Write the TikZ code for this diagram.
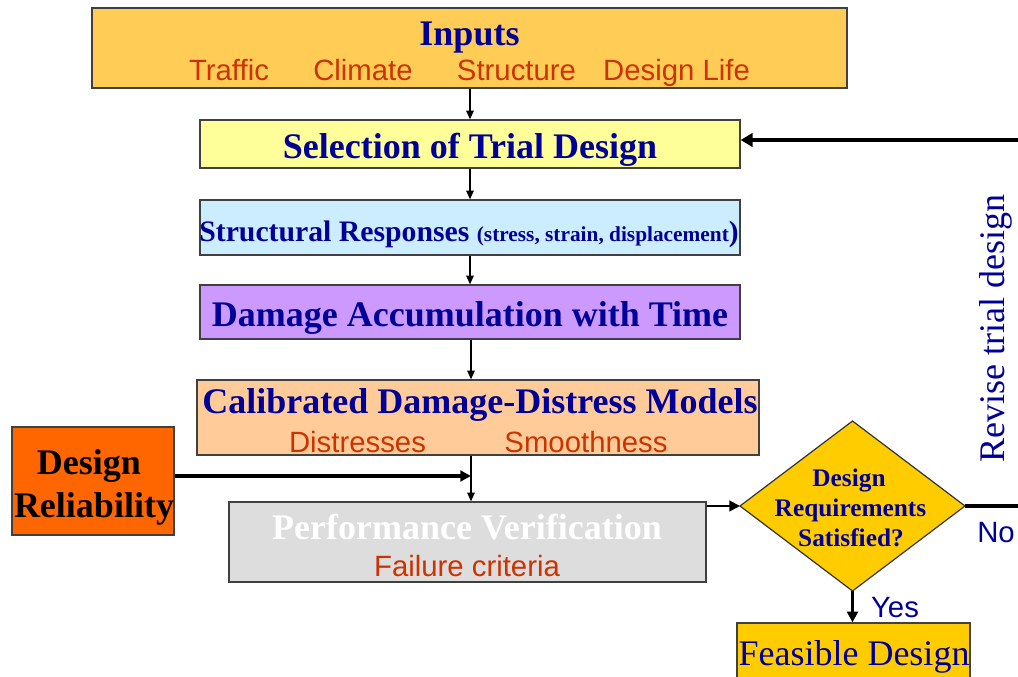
\documentclass[tikz,border=0pt]{standalone}
\usepackage{fontspec}
\setmainfont{Liberation Serif}
\setsansfont{Liberation Sans}
\usetikzlibrary{arrows.meta}
\definecolor{navy}{HTML}{000099}
\definecolor{redtxt}{HTML}{CC3300}
\definecolor{inputfill}{HTML}{FFCC55}
\definecolor{selfill}{HTML}{FFFF99}
\definecolor{strfill}{HTML}{CCECFF}
\definecolor{damfill}{HTML}{CC99FF}
\definecolor{calfill}{HTML}{FFCC99}
\definecolor{relfill}{HTML}{FF6600}
\definecolor{perffill}{HTML}{DDDDDD}
\definecolor{goldfill}{HTML}{FFCC00}
\tikzset{
  box/.style={draw=black!75, line width=0.9pt, inner sep=0pt, rectangle},
  txt/.style={inner sep=0pt, anchor=base},
  title/.style={txt, font=\fontsize{27}{30}\selectfont\bfseries, text=navy},
  sub/.style={txt, font=\sffamily\fontsize{22}{26}\selectfont, text=redtxt},
  thinarrow/.style={line width=1.1pt, -{Triangle[length=6.5pt,width=5.5pt]}},
}
\begin{document}
\begin{tikzpicture}[x=0.75pt,y=-0.75pt]
\useasboundingbox (0,0) rectangle (1018,677);

% boxes
\node[box, fill=inputfill, minimum width=566.25pt, minimum height=60pt] (inputs) at (469.5,48) {};
\node[box, fill=selfill, minimum width=405pt, minimum height=36pt] (sel) at (470,144) {};
\node[box, fill=strfill, minimum width=405pt, minimum height=41.25pt] (str) at (470,227.5) {};
\node[box, fill=damfill, minimum width=405pt, minimum height=40.5pt] (dam) at (470,312) {};
\node[box, fill=calfill, minimum width=421.5pt, minimum height=56.25pt] (cal) at (478,417.5) {};
\node[box, fill=relfill, minimum width=121.5pt, minimum height=81pt] (rel) at (93,481) {};
\node[box, fill=perffill, minimum width=357.75pt, minimum height=60pt] (perf) at (467.5,542) {};
\node[box, fill=goldfill, minimum width=174.75pt, minimum height=42pt] (feas) at (853.5,651) {};

% diamond
\coordinate (dian) at (852.5,421);
\coordinate (diae) at (965,506);
\coordinate (dias) at (852.5,591);
\coordinate (diaw) at (740,506);
\draw[draw=black!80, line width=0.9pt, fill=goldfill] (dian) -- (diae) -- (dias) -- (diaw) -- cycle;

% texts
\node[title] (tinputs) at (469.5,46) {Inputs};
\node[sub] (ttraffic) at (229,81) {Traffic};
\node[sub] (tclimate) at (363,81) {Climate};
\node[sub] (tstructure) at (516.5,81) {Structure};
\node[sub] (tlife) at (676.5,81) {Design Life};
\node[title] (tsel) at (470,159) {Selection of Trial Design};
\node[txt, text=navy, font=\bfseries] (tstr) at (469,242) {\fontsize{22.3}{26}\selectfont Structural Responses {\fontsize{16}{18}\selectfont (stress, strain, displacement}{\fontsize{22}{26}\selectfont)}};
\node[title] (tdam) at (470,327) {Damage Accumulation with Time};
\node[title] (tcal) at (480,413) {Calibrated Damage-Distress Models};
\node[sub] (tdist) at (357.5,452) {Distresses};
\node[sub] (tsmooth) at (586,452) {Smoothness};
\node[title, text=black] (trel1) at (89,474) {Design};
\node[title, text=black] (trel2) at (94,517) {Reliability};
\node[title, text=white] (tperf) at (467,539) {Performance Verification};
\node[sub] (tfail) at (467,576) {Failure criteria};
\node[txt, text=navy, font=\fontsize{19}{22.5}\selectfont\bfseries] (tdia1) at (849,486) {Design};
\node[txt, text=navy, font=\fontsize{19}{22.5}\selectfont\bfseries] (tdia2) at (850.5,516) {Requirements};
\node[txt, text=navy, font=\fontsize{19}{22.5}\selectfont\bfseries] (tdia3) at (851,546) {Satisfied?};
\node[txt, text=navy, font=\fontsize{27}{30}\selectfont] (tfeas) at (854,665) {Feasible Design};
\node[txt, text=navy, font=\fontsize{27}{30}\selectfont, rotate=90] (trev) at (1004,328.5) {Revise trial design};
\node[txt, text=navy, font=\sffamily\fontsize{22}{26}\selectfont] (tyes) at (895,617) {Yes};
\node[txt, text=navy, font=\sffamily\fontsize{22}{26}\selectfont] (tno) at (996,542) {No};

% connectors
\coordinate (jn) at (471,476);
\coordinate (fbr) at (1021,506);
\coordinate (fbt) at (1021,140);
\draw[thinarrow] (sel.north |- inputs.south) -- (sel.north);
\draw[thinarrow] (sel.south) -- (str.north);
\draw[thinarrow] (str.south) -- (dam.north);
\draw[thinarrow] (dam.south -| jn) -- (cal.north -| jn);
\draw[thinarrow] (cal.south -| jn) -- (perf.north -| jn);
\draw[line width=2.4pt, -{Triangle[length=8pt,width=8pt]}] (rel.east |- jn) -- (jn);
\draw[line width=1.6pt, -{Triangle[length=8pt,width=8pt]}] (perf.east |- diaw) -- (diaw);
\draw[line width=3.2pt, -{Triangle[length=9pt,width=10pt]}] (diae) -- (fbr) -- (fbt) -- (sel.east |- fbt);
\draw[line width=2.8pt, -{Triangle[length=8pt,width=8pt]}] (dias) -- (dias |- feas.north);
\end{tikzpicture}
\end{document}
